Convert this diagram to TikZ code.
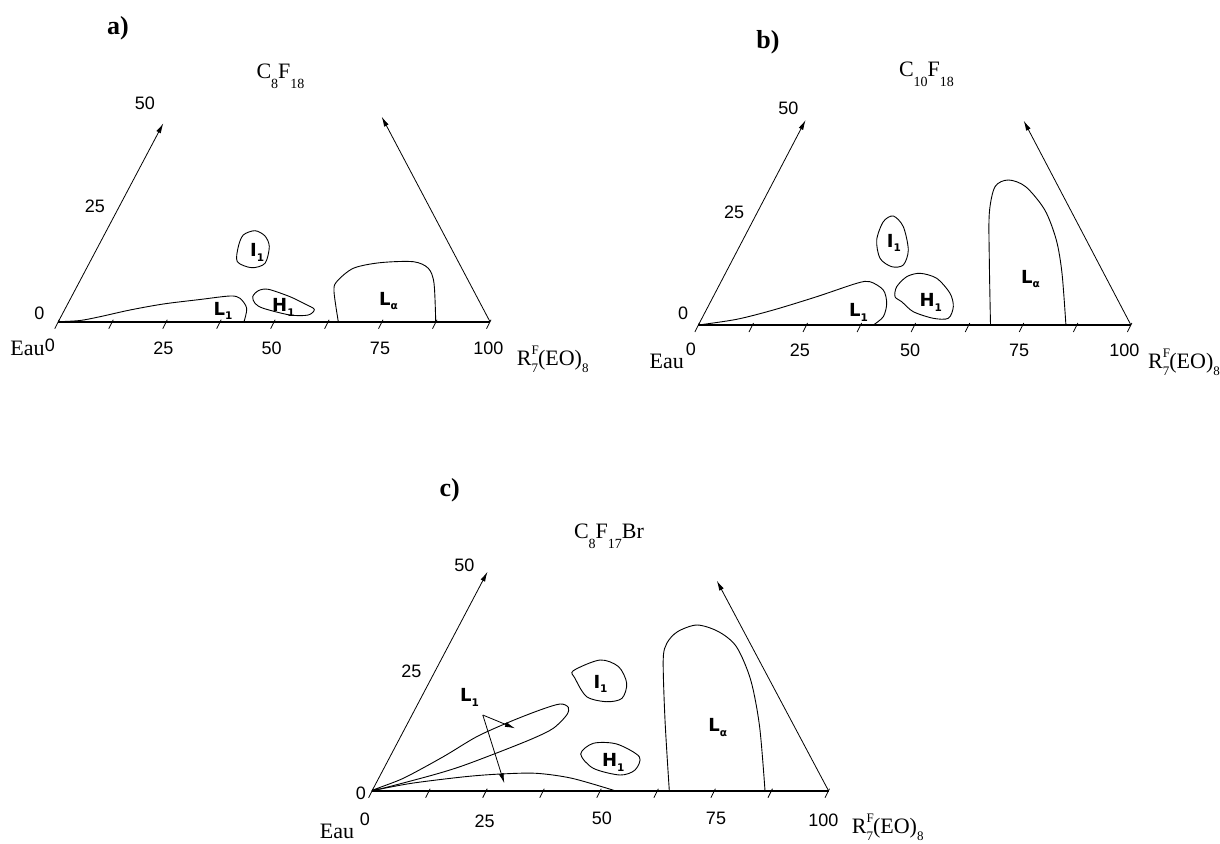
\documentclass[tikz,border=0pt]{standalone}
\usepackage{fontspec}
\setmainfont{Liberation Serif}
\setsansfont{Liberation Sans}
\newfontfamily\phasefont{DejaVu Sans}
\usetikzlibrary{arrows.meta}

\newcommand{\lowsub}[1]{\raisebox{-4.5pt}{\fontsize{10.5}{10.5}\selectfont #1}}
\newcommand{\chemsub}[1]{\raisebox{-10pt}{\fontsize{14}{14}\selectfont #1}}
\newcommand{\surfname}{R\rlap{\raisebox{11pt}{\fontsize{13}{13}\selectfont F}}\raisebox{-7pt}{\fontsize{13}{13}\selectfont 7}(EO)\raisebox{-7pt}{\fontsize{13}{13}\selectfont 8}}

\begin{document}
\begin{tikzpicture}[x=1pt, y=-1pt,
    num/.style={font=\sffamily\fontsize{18}{18}\selectfont, inner sep=0pt},
    lbl/.style={font=\fontsize{22}{22}\selectfont, inner sep=0pt, anchor=base},
    panel/.style={font=\bfseries\fontsize{26}{26}\selectfont, inner sep=0pt, anchor=base},
    phase/.style={font=\phasefont\bfseries\fontsize{18}{18}\selectfont, inner sep=0pt, anchor=base west},
    axisarrow/.style={-{Latex[length=10pt,width=5pt]}, line width=0.8pt},
    bottomaxis/.style={line width=1.6pt},
    region/.style={line width=0.9pt}]
  \useasboundingbox (0,0) rectangle (1220,843);

  % ---- a) C8F18
  \node[panel] (ta) at (118,35) {a)};
  \node[lbl] (oila) at (280.5,78.3) {C\chemsub{8}F\chemsub{18}};
  \coordinate (eaua) at (58.3,321.7);
  \coordinate (surfa) at (490,321.7);
  \draw[bottomaxis] (eaua) -- (surfa);
  \foreach \t in {0,...,8}
    \draw[line width=0.8pt] ({58.3+\t*53.96+1},319.7) -- ({58.3+\t*53.96-3.5},328.7);
  \draw[axisarrow] (eaua) -- (163.3,123.3);
  \draw[axisarrow] (surfa) -- (381.7,116.7);
  \node[num] (la0) at (39.3,313.3) {0};
  \node[num] (la25) at (95,206) {25};
  \node[num] (la50) at (145,103.3) {50};
  \node[num] (ba0) at (50,345.7) {0};
  \node[num] (ba25) at (163.3,348.3) {25};
  \node[num] (ba50) at (271.7,348.3) {50};
  \node[num] (ba75) at (380,348.3) {75};
  \node[num] (ba100) at (488.3,348.3) {100};
  \node[lbl] (wa) at (27.5,355) {Eau};
  \node[lbl, anchor=base west] (ra) at (516.7,365) {\surfname};
  \draw[region] plot[smooth] coordinates {(58.3,321.7) (80,320.5) (100,316.7) (130,310) (163.3,304) (200,299.5) (230,296) (240,298.3) (246.7,308.3) (244,321.7)};
  \draw[region] plot[smooth cycle] coordinates {(252.7,296.7) (258.3,290.7) (268.3,289.3) (290,296.7) (305,304) (314.3,309.3) (308.3,315) (290,315) (263.3,308.3) (255,303.3)};
  \draw[region] plot[smooth cycle] coordinates {(255,230.7) (265,236) (269.3,246.7) (265,263.3) (251.7,267.7) (237.3,261.7) (238.3,246.7) (243.3,235)};
  \draw[region] plot[smooth] coordinates {(338.3,321.7) (334,291.7) (336.7,281.7) (353.3,268.3) (380,262.7) (413.3,261.7) (428.3,268.3) (434,283.3) (435.7,321.7)};
  \node[phase] (l1a) at (213.5,315) {L\lowsub{1}};
  \node[phase] (h1a) at (272,311.5) {H\lowsub{1}};
  \node[phase] (i1a) at (250,256.5) {I\lowsub{1}};
  \node[phase] (laa) at (379,305) {L\lowsub{α}};

  % ---- b) C10F18
  \node[panel] (tb) at (768,48.3) {b)};
  \node[lbl] (oilb) at (926.5,76.7) {C\chemsub{10}F\chemsub{18}};
  \coordinate (eaub) at (698.4,325);
  \coordinate (surfb) at (1130.9,325);
  \draw[bottomaxis] (eaub) -- (surfb);
  \foreach \t in {0,...,8}
    \draw[line width=0.8pt] ({698.4+\t*54.06+1},323) -- ({698.4+\t*54.06-3.5},332);
  \draw[axisarrow] (eaub) -- (805.6,120);
  \draw[axisarrow] (surfb) -- (1023.7,120.7);
  \node[num] (lb0) at (683,313.3) {0};
  \node[num] (lb25) at (734,212.7) {25};
  \node[num] (lb50) at (788.4,108.3) {50};
  \node[num] (bb0) at (690.8,349.3) {0};
  \node[num] (bb25) at (799.9,350.7) {25};
  \node[num] (bb50) at (910,350.7) {50};
  \node[num] (bb75) at (1019,350.7) {75};
  \node[num] (bb100) at (1124.4,350) {100};
  \node[lbl] (wb) at (666.8,368.3) {Eau};
  \node[lbl, anchor=base west] (rb) at (1148,368.3) {\surfname};
  \draw[region] plot[smooth] coordinates {(698.4,325) (736.7,319.3) (773.3,310) (816.7,296.7) (856.7,283.3) (870,281.7) (883.3,290) (886.7,303.3) (883.3,316.7) (873.3,325)};
  \draw[region] plot[smooth cycle] coordinates {(895,296.7) (896.7,286.7) (906.7,276.7) (920,273.3) (936.7,278.3) (950,293.3) (953.3,306.7) (948.3,318.3) (933.3,318.3) (913.3,311.7) (901.7,301.7)};
  \draw[region] plot[smooth cycle] coordinates {(893.3,216) (903.3,226.7) (908.3,250) (903.3,265) (891.7,266.7) (880,258.3) (876.7,240) (883.3,221.7)};
  \draw[region] plot[smooth] coordinates {(990.5,325) (989.3,260) (989.3,213.3) (995,186.7) (1008.4,180) (1025.7,186.7) (1044.8,210) (1056.3,240) (1062,273.3) (1065.9,325)};
  \node[phase] (l1b) at (849,316.7) {L\lowsub{1}};
  \node[phase] (h1b) at (919.3,306.7) {H\lowsub{1}};
  \node[phase] (i1b) at (886.7,247.3) {I\lowsub{1}};
  \node[phase] (lab) at (1021,283.3) {L\lowsub{α}};

  % ---- c) C8F17Br
  \node[panel] (tc) at (449.7,496.7) {c)};
  \node[lbl] (oilc) at (609,538.3) {C\chemsub{8}F\chemsub{17}Br};
  \coordinate (eauc) at (372.1,790.7);
  \coordinate (surfc) at (828.5,790.7);
  \draw[bottomaxis] (eauc) -- (surfc);
  \foreach \t in {0,...,8}
    \draw[line width=0.8pt] ({372.1+\t*57.05+1},788.7) -- ({372.1+\t*57.05-3.5},797.7);
  \draw[axisarrow] (eauc) -- (487.5,571.7);
  \draw[axisarrow] (surfc) -- (716.8,580.7);
  \node[num] (lc0) at (361,793) {0};
  \node[num] (lc25) at (411.4,671.7) {25};
  \node[num] (lc50) at (464.3,565) {50};
  \node[num] (bc0) at (365,819) {0};
  \node[num] (bc25) at (484.6,821.7) {25};
  \node[num] (bc50) at (601.8,818.3) {50};
  \node[num] (bc75) at (716,818.3) {75};
  \node[num] (bc100) at (823.3,820) {100};
  \node[lbl] (wc) at (337,838) {Eau};
  \node[lbl, anchor=base west] (rc) at (851.7,833) {\surfname};
  \draw[region] plot[smooth cycle] coordinates {(372.1,790.7) (403.3,778.3) (443.3,756.7) (476.7,736.7) (510,721.7) (540,710) (560,704) (568.3,707.3) (566.7,715) (553.3,728.3) (533.3,738.3) (500,751.7) (460,766.7) (426.7,776.7)};
  \draw[region] plot[smooth] coordinates {(372.1,790.7) (411.4,783.3) (465,776.7) (500.7,774) (536.4,773.3) (572,778.3) (615,790.7)};
  \draw[region] plot[smooth cycle] coordinates {(573.3,670.7) (600,660) (618.6,666.7) (626.7,683.3) (622,698.3) (606.7,701.7) (586.7,696.7) (575,678.3)};
  \draw[region] plot[smooth cycle] coordinates {(580.7,754) (593.3,743.3) (616.7,744) (639.3,756.7) (635,770) (620,775) (593.3,768.3)};
  \draw[region] plot[smooth] coordinates {(669.3,790.7) (665,720) (663.2,660) (666.8,643.3) (677.5,631.7) (697.1,625) (718.6,631.7) (736.4,646.7) (750.7,680) (759.6,726.7) (765,790.7)};
  \node[phase] (l1c) at (460,701.5) {L\lowsub{1}};
  \node[phase] (i1c) at (593.3,688) {I\lowsub{1}};
  \node[phase] (h1c) at (601.8,766.5) {H\lowsub{1}};
  \node[phase] (lac) at (708.2,731.5) {L\lowsub{α}};
  \coordinate (fork) at (482.8,715);
  \draw[axisarrow] (fork) -- (515,728.3);
  \draw[axisarrow] (fork) -- (504.3,783.3);
\end{tikzpicture}
\end{document}
